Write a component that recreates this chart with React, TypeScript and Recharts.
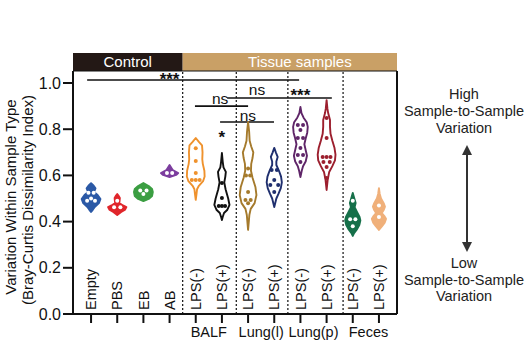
import React from "react";
import {
  ComposedChart,
  XAxis,
  YAxis,
  Scatter,
  ReferenceLine,
  ReferenceArea,
  ReferenceDot,
  Curve,
} from "recharts";

// category labels along the x axis (index = x position)
const categories = [
  "Empty", "PBS", "EB", "AB",
  "LPS(-)", "LPS(+)", "LPS(-)", "LPS(+)", "LPS(-)", "LPS(+)", "LPS(-)", "LPS(+)",
];
const groupNames = ["BALF", "Lung(l)", "Lung(p)", "Feces"];
const groupCenters = [4.5, 6.5, 8.5, 10.6];
const separators = [3.5, 5.55, 7.52, 9.63];
const yTicks = [0, 0.2, 0.4, 0.6, 0.8, 1.0];

const colors = [
  "#2b59a6", "#e0262b", "#3b9e42", "#7c3d9e",
  "#ef922d", "#111111", "#a57a2c", "#1f2f6e",
  "#5f2568", "#9c1f2e", "#16704a", "#f0b07a",
];
const filled = [true, true, true, true, false, false, false, false, false, false, true, true];

// violin outlines: [value, half width in category units], top to bottom
const emptyViolin = [[0.566, 0], [0.555, 0.1], [0.544, 0.17], [0.528, 0.11], [0.515, 0.25], [0.498, 0.36], [0.48, 0.3], [0.463, 0.14], [0.45, 0.06], [0.442, 0]];
const pbsViolin = [[0.519, 0], [0.51, 0.06], [0.502, 0.1], [0.48, 0.08], [0.47, 0.22], [0.463, 0.35], [0.452, 0.3], [0.442, 0.15], [0.429, 0]];
const ebViolin = [[0.567, 0], [0.554, 0.2], [0.541, 0.33], [0.528, 0.36], [0.511, 0.33], [0.498, 0.2], [0.489, 0]];
const abViolin = [[0.645, 0], [0.632, 0.07], [0.623, 0.12], [0.61, 0.33], [0.602, 0.25], [0.593, 0]];
const balfNegViolin = [[0.762, 0], [0.745, 0.12], [0.73, 0.24], [0.7, 0.26], [0.67, 0.25], [0.65, 0.27], [0.62, 0.33], [0.595, 0.34], [0.575, 0.28], [0.555, 0.12], [0.54, 0.05], [0.52, 0.03], [0.494, 0]];
const balfPosViolin = [[0.697, 0], [0.66, 0.03], [0.635, 0.06], [0.615, 0.15], [0.595, 0.13], [0.57, 0.09], [0.54, 0.14], [0.5, 0.24], [0.472, 0.29], [0.45, 0.2], [0.437, 0.08], [0.42, 0.03], [0.407, 0]];
const lunglNegViolin = [[0.831, 0], [0.79, 0.04], [0.75, 0.06], [0.725, 0.12], [0.7, 0.2], [0.675, 0.17], [0.65, 0.12], [0.62, 0.11], [0.59, 0.17], [0.55, 0.28], [0.515, 0.32], [0.48, 0.25], [0.455, 0.1], [0.43, 0.05], [0.364, 0]];
const lunglPosViolin = [[0.719, 0], [0.7, 0.06], [0.68, 0.13], [0.66, 0.08], [0.645, 0.08], [0.62, 0.18], [0.595, 0.26], [0.57, 0.29], [0.545, 0.25], [0.52, 0.16], [0.5, 0.08], [0.463, 0]];
const lungpNegViolin = [[0.896, 0], [0.87, 0.04], [0.85, 0.12], [0.83, 0.24], [0.81, 0.28], [0.785, 0.26], [0.76, 0.2], [0.735, 0.15], [0.71, 0.2], [0.685, 0.25], [0.66, 0.2], [0.64, 0.1], [0.62, 0.05], [0.593, 0]];
const lungpPosViolin = [[0.926, 0], [0.89, 0.03], [0.87, 0.06], [0.84, 0.13], [0.81, 0.13], [0.78, 0.15], [0.75, 0.22], [0.72, 0.3], [0.69, 0.34], [0.665, 0.32], [0.64, 0.22], [0.615, 0.1], [0.58, 0.04], [0.537, 0]];
const fecesNegViolin = [[0.524, 0], [0.5, 0.06], [0.48, 0.11], [0.462, 0.07], [0.44, 0.17], [0.42, 0.26], [0.405, 0.29], [0.385, 0.25], [0.365, 0.15], [0.35, 0.05], [0.338, 0]];
const fecesPosViolin = [[0.545, 0], [0.52, 0.03], [0.5, 0.08], [0.48, 0.18], [0.465, 0.23], [0.45, 0.18], [0.437, 0.11], [0.425, 0.2], [0.412, 0.27], [0.395, 0.22], [0.38, 0.12], [0.364, 0]];

const violins = [
  emptyViolin, pbsViolin, ebViolin, abViolin,
  balfNegViolin, balfPosViolin, lunglNegViolin, lunglPosViolin,
  lungpNegViolin, lungpPosViolin, fecesNegViolin, fecesPosViolin,
];

// individual samples: [offset from centre, value]
const emptyDots = [[-0.1, 0.525], [0.1, 0.525], [0, 0.5], [-0.15, 0.49], [0.15, 0.49]];
const pbsDots = [[0, 0.49], [-0.12, 0.462], [0.12, 0.462]];
const ebDots = [[-0.12, 0.535], [0.12, 0.535], [0, 0.52]];
const abDots = [[-0.1, 0.61], [0.1, 0.61]];
const balfNegDots = [[0, 0.718], [0, 0.662], [0, 0.61], [-0.15, 0.58], [0, 0.58], [0.15, 0.58]];
const balfPosDots = [[0, 0.567], [0, 0.502], [-0.12, 0.468], [0, 0.468], [0.12, 0.468]];
const lunglNegDots = [[0, 0.63], [-0.08, 0.6], [0.08, 0.6], [0, 0.528], [-0.1, 0.493], [0.1, 0.493], [0, 0.48]];
const lunglPosDots = [[-0.1, 0.623], [0.1, 0.623], [0, 0.58], [-0.15, 0.558], [0.15, 0.558], [0, 0.528]];
const lungpNegDots = [[-0.1, 0.818], [0.1, 0.818], [0, 0.797], [-0.1, 0.762], [0.1, 0.762], [0, 0.719], [-0.1, 0.688], [0.1, 0.688], [0, 0.658]];
const lungpPosDots = [[0, 0.848], [0, 0.762], [-0.15, 0.68], [0, 0.68], [0.15, 0.68], [-0.12, 0.658], [0.12, 0.658], [0, 0.636], [0, 0.589]];
const fecesNegDots = [[0, 0.49], [-0.1, 0.41], [0.1, 0.41], [0, 0.38]];
const fecesPosDots = [[0, 0.47], [0, 0.42]];

const dotSets = [
  emptyDots, pbsDots, ebDots, abDots,
  balfNegDots, balfPosDots, lunglNegDots, lunglPosDots,
  lungpNegDots, lungpPosDots, fecesNegDots, fecesPosDots,
];

// significance brackets: [x1, x2, y]
const brackets = [
  [-0.15, 7.95, 1.013],
  [5.2, 9.2, 0.935],
  [3.97, 6.0, 0.9],
  [4.93, 6.99, 0.831],
];
// significance marks: [x, y, text]
const marks: [number, number, string][] = [
  [3.0, 1.018, "***"],
  [6.34, 0.97, "ns"],
  [4.93, 0.932, "ns"],
  [8.0, 0.948, "***"],
  [5.99, 0.86, "ns"],
  [5.0, 0.765, "*"],
];

const X_MIN = -0.69;
const X_MAX = 11.69;
const Y_MAX = 1.052;
const FONT = "'Liberation Sans', Arial, sans-serif";

function violinPoints(profile: number[][], i: number) {
  const right = profile.map(([v, w]) => ({ x: i + w, y: v }));
  const left = [...profile].reverse().map(([v, w]) => ({ x: i - w, y: v }));
  return [...right, ...left];
}

const noShape = () => <g />;

function violinLine(color: string, isFilled: boolean) {
  return (props: any) => (
    <Curve
      points={props.points}
      type="linearClosed"
      fill={isFilled ? color : "#fff"}
      stroke={color}
      strokeWidth={1.9}
      strokeLinejoin="round"
    />
  );
}

const dotData = dotSets.flatMap((set, i) =>
  set.map(([dx, v]) => ({ x: i + dx, y: v, fill: filled[i] ? "#fff" : colors[i] }))
);

function DotShape(props: any) {
  const { cx, cy, payload } = props;
  return <circle cx={cx} cy={cy} r={2} fill={payload.fill} />;
}

function CategoryTick(props: any) {
  const { x, y, payload } = props;
  const axisY = y - 11;
  return (
    <g transform={`translate(${x},${axisY - 4}) rotate(-90)`}>
      <text x={0} y={0} dy="0.36em" textAnchor="start" fontSize={14.5} fill="#111">
        {categories[payload.value]}
      </text>
    </g>
  );
}

export default function App() {
  return (
    <div
      style={{
        position: "absolute",
        left: 0,
        top: 0,
        width: 525,
        height: 359,
        background: "#fff",
        fontFamily: FONT,
      }}
    >
      <ComposedChart
        width={525}
        height={359}
        margin={{ top: 71, right: 128, bottom: 0, left: 0 }}
      >
        <XAxis
          type="number"
          dataKey="x"
          domain={[X_MIN, X_MAX]}
          ticks={categories.map((_, i) => i)}
          interval={0}
          height={45}
          tickSize={9}
          tickMargin={2}
          tick={<CategoryTick />}
          axisLine={{ stroke: "#111", strokeWidth: 2 }}
          tickLine={{ stroke: "#111", strokeWidth: 2 }}
        />
        <YAxis
          type="number"
          dataKey="y"
          domain={[0, Y_MAX]}
          ticks={yTicks}
          width={73}
          tickSize={10}
          tickMargin={2}
          tickFormatter={(v) => Number(v).toFixed(1)}
          tick={{ fontSize: 16, fill: "#111" }}
          axisLine={{ stroke: "#111", strokeWidth: 2 }}
          tickLine={{ stroke: "#111", strokeWidth: 2 }}
        />

        <ReferenceArea
          x1={X_MIN}
          x2={3.5}
          y1={Y_MAX}
          y2={1.13}
          ifOverflow="visible"
          fill="#231815"
          fillOpacity={1}
          stroke="none"
        />
        <ReferenceArea
          x1={3.5}
          x2={X_MAX}
          y1={Y_MAX}
          y2={1.13}
          ifOverflow="visible"
          fill="#c9a066"
          fillOpacity={1}
          stroke="none"
        />
        <ReferenceDot
          x={1.4}
          y={1.091}
          r={0}
          ifOverflow="visible"
          label={{ value: "Control", position: "center", fill: "#fff", fontSize: 15 }}
        />
        <ReferenceDot
          x={7.98}
          y={1.091}
          r={0}
          ifOverflow="visible"
          label={{ value: "Tissue samples", position: "center", fill: "#fff", fontSize: 15 }}
        />
        <ReferenceLine y={Y_MAX} stroke="#111" strokeWidth={1.2} ifOverflow="visible" />
        <ReferenceLine x={X_MAX} stroke="#111" strokeWidth={2} ifOverflow="visible" />

        {separators.map((s) => (
          <ReferenceLine
            key={s}
            x={s}
            stroke="#222"
            strokeWidth={1.3}
            strokeDasharray="2 2"
          />
        ))}

        {brackets.map(([x1, x2, y], i) => (
          <ReferenceLine
            key={"b" + i}
            segment={[{ x: x1, y }, { x: x2, y }]}
            stroke="#111"
            strokeWidth={1.6}
          />
        ))}
        {marks.map(([x, y, t], i) => (
          <ReferenceDot
            key={"m" + i}
            x={x}
            y={y}
            r={0}
            ifOverflow="visible"
            label={{
              value: t,
              position: "center",
              fill: "#111",
              fontSize: t === "ns" ? 15.5 : 17,
              fontWeight: t === "ns" ? "normal" : "bold",
            }}
          />
        ))}

        {violins.map((profile, i) => (
          <Scatter
            key={"v" + i}
            data={violinPoints(profile, i)}
            line={violinLine(colors[i], filled[i])}
            lineType="joint"
            shape={noShape}
            isAnimationActive={false}
          />
        ))}
        <Scatter data={dotData} shape={<DotShape />} isAnimationActive={false} />

        {groupNames.map((g, i) => (
          <ReferenceDot
            key={g}
            x={groupCenters[i]}
            y={-0.078}
            r={0}
            ifOverflow="visible"
            label={{ value: g, position: "center", fill: "#111", fontSize: 14.5 }}
          />
        ))}
      </ComposedChart>

      <svg
        width={525}
        height={359}
        style={{ position: "absolute", left: 0, top: 0, pointerEvents: "none" }}
      >
        <defs>
          <marker id="arr" viewBox="0 0 10 10" refX="5" refY="5" markerWidth="5" markerHeight="5" orient="auto-start-reverse">
            <path d="M0,0 L10,5 L0,10 z" fill="#333" />
          </marker>
        </defs>
        <g fontSize={15} fill="#111" textAnchor="middle">
          <text transform="translate(16,197) rotate(-90)">Variation Within Sample Type</text>
          <text transform="translate(33,200) rotate(-90)">(Bray-Curtis Dissimilarity Index)</text>
        </g>
        <g fontSize={14.5} fill="#222" textAnchor="middle">
          <text x={464} y={99}>High</text>
          <text x={464} y={116}>Sample-to-Sample</text>
          <text x={464} y={133}>Variation</text>
          <text x={464} y={268}>Low</text>
          <text x={464} y={285}>Sample-to-Sample</text>
          <text x={464} y={301}>Variation</text>
        </g>
        <line x1={467} y1={150} x2={467} y2={247} stroke="#333" strokeWidth={2} markerStart="url(#arr)" markerEnd="url(#arr)" />
      </svg>
    </div>
  );
}
